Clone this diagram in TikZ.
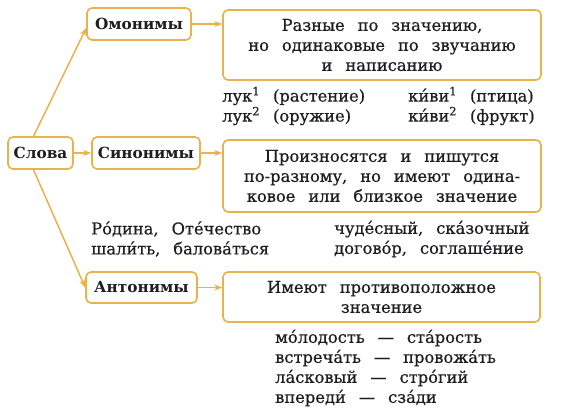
\documentclass[tikz,border=0pt]{standalone}
\usepackage{fontspec}
\setmainfont{DejaVu Serif}[WordSpace={2.5,1,1}, UprightFeatures={FakeBold=0.6}]
\usetikzlibrary{arrows.meta}
\definecolor{gold}{RGB}{232,178,76}
\definecolor{ink}{RGB}{30,30,34}
\tikzset{
  box/.style={draw=gold, line width=1.6pt, rounded corners=5pt, fill=white, inner sep=0pt, text=ink},
  lbl/.style={box, font=\fontsize{15.3}{18}\selectfont\bfseries},
  defn/.style={box, align=center, font=\fontsize{16.3}{20}\selectfont},
  ex/.style={anchor=west, align=left, text=ink, font=\fontsize{16.3}{20}\selectfont, inner sep=0pt},
  conn/.style={draw=gold, line width=1.5pt, -{Stealth[length=8pt,width=6pt]}},
}
\newcommand{\sps}[1]{\textsuperscript{#1}}
\begin{document}
\begin{tikzpicture}[x=1pt,y=1pt]
\useasboundingbox (0,0) rectangle (561,-416);
% left column
\node[lbl, minimum width=65, minimum height=32] (slova) at (40.5,-153) {Слова};
\node[lbl, minimum width=104, minimum height=32] (omon) at (139,-24) {Омонимы};
\node[lbl, minimum width=108, minimum height=32] (sinon) at (146,-153) {Синонимы};
\node[lbl, minimum width=111, minimum height=31] (anton) at (141.5,-287.5) {Антонимы};
% definitions
\node[defn, minimum width=318, minimum height=70] (def1) at (382,-45)
  {Разные по значению,\\но одинаковые по звучанию\\и написанию};
\node[defn, minimum width=318, minimum height=72] (def2) at (382,-176)
  {Произносятся и пишутся\\по-разному, но имеют одина-\\ковое или близкое значение};
\node[defn, minimum width=317, minimum height=50] (def3) at (381.5,-297)
  {Имеют противоположное\\значение};
% connectors
\draw[conn] (slova.east) -- (sinon.west);
\draw[conn] ([xshift=-7pt]slova.north) -- ([yshift=-4pt]omon.west);
\draw[conn] ([xshift=-7pt]slova.south) -- (anton.west);
\draw[conn] (omon.east) -- (omon.east -| def1.west);
\draw[conn] (sinon.east) -- (sinon.east -| def2.west);
\draw[conn] (anton.east) -- (anton.east -| def3.west);
% examples
\node[ex] (e1) at (222,-106) {лук\sps{1} (растение)\\лук\sps{2} (оружие)};
\node[ex] (e2) at (408,-106) {ки́ви\sps{1} (птица)\\ки́ви\sps{2} (фрукт)};
\node[ex] (e3) at (91,-239) {Ро́дина, Оте́чество\\шали́ть, балова́ться};
\node[ex] (e4) at (334,-239) {чуде́сный, ска́зочный\\догово́р, соглаше́ние};
\node[ex] (e5) at (275,-368) {мо́лодость — ста́рость\\встреча́ть — провожа́ть\\ла́сковый — стро́гий\\впереди́ — сза́ди};
\end{tikzpicture}
\end{document}
